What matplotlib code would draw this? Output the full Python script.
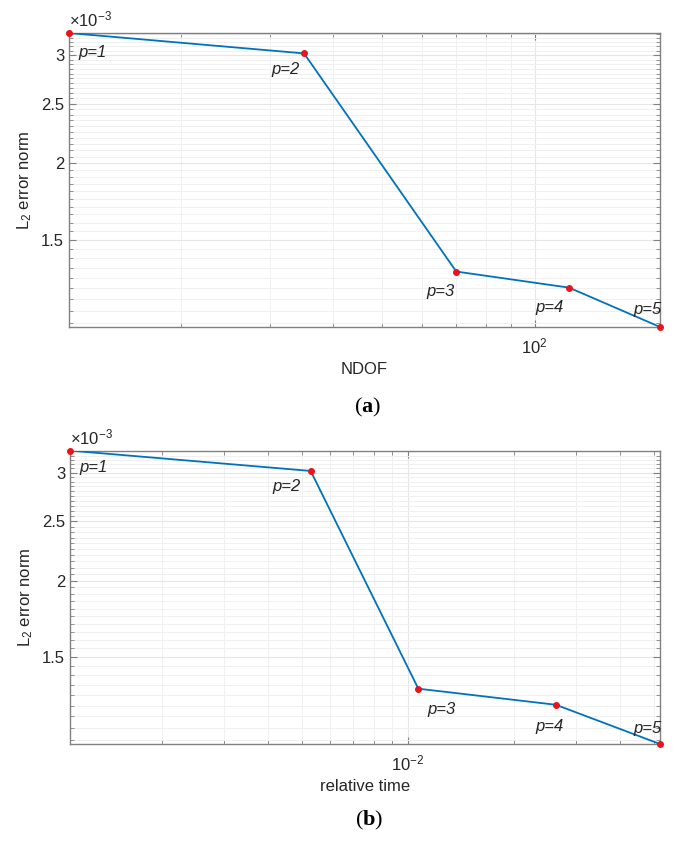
import numpy as np
import matplotlib
matplotlib.use("Agg")
import matplotlib.pyplot as plt
from matplotlib.ticker import FixedLocator, NullFormatter

plt.rcParams['font.family'] = ['Liberation Sans', 'DejaVu Sans']
plt.rcParams['mathtext.fontset'] = 'custom'
plt.rcParams['mathtext.rm'] = 'Liberation Sans'
plt.rcParams['mathtext.it'] = 'Liberation Sans:italic'
plt.rcParams['mathtext.bf'] = 'Liberation Serif:bold'

# data
p_labels = ["p=1", "p=2", "p=3", "p=4", "p=5"]
ndof = [12.0, 35.0, 70.0, 117.0, 177.0]
rel_time = [1.096e-3, 5.29e-3, 1.07e-2, 2.63e-2, 5.2e-2]
l2_error = [3.26e-3, 3.02e-3, 1.332e-3, 1.254e-3, 1.082e-3]

ytick_vals = [1.5e-3, 2e-3, 2.5e-3, 3e-3]
ytick_labels = ["1.5", "2", "2.5", "3"]

# label offsets (pixels) for p=.. annotations
offsets_a = [(9, -19), (-33, -16), (-30, -20), (-34, -20), (-27, 17)]
offsets_b = [(9, -17), (-38, -16), (9, -21), (-20, -22), (-27, 16)]

LINE = '#0072BD'
AXC = '#808080'
TXT = '#262626'

fig = plt.figure(figsize=(6.8, 8.47), dpi=100)
ax1 = fig.add_axes([0.1015, 0.614, 0.869, 0.347])
ax2 = fig.add_axes([0.1030, 0.1216, 0.8676, 0.3464])


def style(ax, x, offs, xlim, xticks, xticklabels, xminor, xlabel):
    ax.set_xscale('log')
    ax.set_yscale('log')
    ax.plot(x, l2_error, '-', color=LINE, lw=1.3, zorder=3)
    ax.plot(x, l2_error, 'o', color='#e8141c', ms=4, mec='#e8141c', zorder=4, clip_on=False)
    ax.set_xlim(*xlim)
    ax.set_ylim(1.082e-3, 3.26e-3)
    ax.xaxis.set_major_locator(FixedLocator(xticks))
    ax.set_xticklabels(xticklabels)
    ax.xaxis.set_minor_locator(FixedLocator(xminor))
    ax.xaxis.set_minor_formatter(NullFormatter())
    ax.yaxis.set_major_locator(FixedLocator(ytick_vals))
    ax.set_yticklabels(ytick_labels)
    yminor = [v * 1e-3 for v in np.arange(1.10, 3.30, 0.05)]
    ax.yaxis.set_minor_locator(FixedLocator(yminor))
    ax.yaxis.set_minor_formatter(NullFormatter())
    ax.grid(True, which='major', color='#e6e6e6', lw=0.8)
    ax.grid(True, which='minor', color='#f0f0f0', lw=0.7)
    ax.set_axisbelow(True)
    for s in ax.spines.values():
        s.set_color(AXC)
        s.set_linewidth(1.0)
    ax.tick_params(which='both', direction='in', top=True, right=True, colors=AXC,
                   labelcolor=TXT, labelsize=12)
    ax.tick_params(axis='x', which='major', pad=7)
    ax.tick_params(which='major', length=5)
    ax.tick_params(which='minor', length=3)
    for lab, xv, yv, off in zip(p_labels, x, l2_error, offs):
        ax.annotate(lab, (xv, yv), xytext=off, textcoords='offset pixels',
                    fontsize=12, style='italic', color=TXT, ha='left', va='center')
    ax.set_xlabel(xlabel, fontsize=12, color=TXT, labelpad=4)
    ax.set_ylabel(r'L$_2$ error norm', fontsize=12, color=TXT, labelpad=5)
    ax.text(0.0, 1.012, r'$\times10^{-3}$', transform=ax.transAxes, fontsize=12,
            color=TXT, ha='left', va='bottom')


style(ax1, ndof, offsets_a, (12.0, 177.0), [100], [r'$10^{2}$'],
      [20, 30, 40, 50, 60, 70, 80, 90], 'NDOF')
style(ax2, rel_time, offsets_b, (1.096e-3, 5.2e-2), [1e-2], [r'$10^{-2}$'],
      [2e-3, 3e-3, 4e-3, 5e-3, 6e-3, 7e-3, 8e-3, 9e-3, 2e-2, 3e-2, 4e-2, 5e-2],
      'relative time')

fig.text(368 / 680, 1 - 407 / 847, r'($\mathbf{a}$)', fontsize=16, family='Liberation Serif',
         ha='center', va='center')
fig.text(369 / 680, 1 - 820 / 847, r'($\mathbf{b}$)', fontsize=16, family='Liberation Serif',
         ha='center', va='center')

fig.savefig('out.png', dpi=100)
